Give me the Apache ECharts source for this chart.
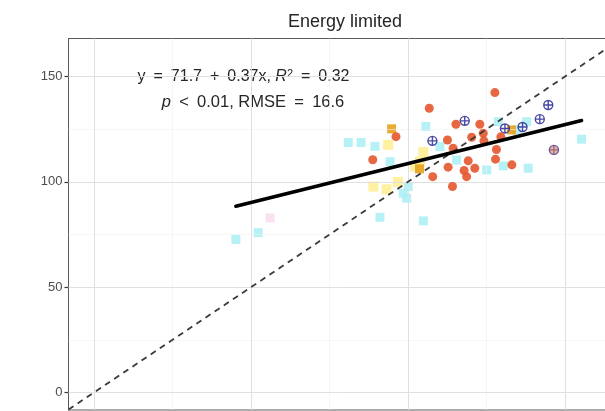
<!DOCTYPE html>
<html>
<head>
<meta charset="utf-8">
<script src="https://cdn.jsdelivr.net/npm/echarts@6/dist/echarts.min.js"></script>
<style>
  html, body { margin: 0; padding: 0; background: #fff; }
  #chart { width: 605px; height: 411px; }
</style>
</head>
<body>
<div id="chart"></div>
<script>
// Observed vs. predicted values, energy-limited sites
const orangeSites = [
  [127.7, 142.4], [106.8, 135.0], [115.3, 127.4], [122.9, 127.4], [96.2, 121.5],
  [112.6, 119.9], [120.3, 121.2], [124.0, 123.1], [124.2, 119.5], [114.4, 116.0],
  [88.8, 110.5], [119.2, 110.0], [127.9, 110.8], [112.8, 107.0], [117.9, 105.4],
  [121.3, 106.5], [118.7, 102.5], [107.9, 102.5], [114.2, 97.8], [133.1, 108.1],
  [128.2, 115.4], [129.6, 121.4]
];
const cyanSites = [
  [45.2, 72.7], [52.3, 75.9], [81.0, 118.7], [85.1, 118.7], [89.5, 116.9],
  [105.7, 126.3], [94.3, 109.6], [91.1, 83.2], [104.9, 81.5], [100.1, 97.8],
  [99.6, 92.3], [155.3, 120.3], [138.3, 106.5], [130.4, 107.6], [125.1, 105.7],
  [137.8, 128.6], [134.6, 124.7], [128.8, 128.6], [115.5, 110.4], [110.2, 116.8],
  [98.5, 94.6]
];
const yellowSites = [
  [104.9, 114.2], [93.7, 117.6], [89.0, 97.8], [93.2, 96.5], [102.2, 107.3],
  [103.8, 109.6], [96.8, 100.0]
];
const goldSites = [[94.8, 125.2], [103.7, 106.2], [133.0, 124.7]];
const pinkSites = [[56.1, 82.9]];
const crossSites = [
  [144.7, 136.5], [142.0, 129.8], [136.5, 126.1], [130.9, 125.4], [118.1, 129.0],
  [107.8, 119.5], [146.5, 115.2]
];
const overlapSites = [[146.5, 115.2]];

// Linear fit and 1:1 reference
const fitIntercept = 71.7;
const fitSlope = 0.37;
const fitRange = [45.2, 155.3];
const identityRange = [-8.1, 168];

const yTicks = [0, 50, 100, 150];
const minorTicks = [25, 75, 125];

const fitLine = fitRange.map(x => [x, fitIntercept + fitSlope * x]);
const identityLine = identityRange.map(v => [v, v]);

const FONT = 'Liberation Sans, Arial, sans-serif';
const TEXT = '#262626';
const SP = '\u2002';
const crossPath = 'path://M10,0 A10,10 0 1 1 10,20 A10,10 0 1 1 10,0 Z M0,10 L20,10 M10,0 L10,20';

const chart = echarts.init(document.getElementById('chart'), null, { renderer: 'canvas' });

const gridMarks = {
  silent: true,
  symbol: 'none',
  label: { show: false },
  animation: false,
  data: [
    ...minorTicks.map(v => ({ yAxis: v, lineStyle: { color: '#F0F0F0', width: 0.6, type: 'solid' } })),
    ...minorTicks.map(v => ({ xAxis: v, lineStyle: { color: '#F0F0F0', width: 0.6, type: 'solid' } })),
    ...yTicks.map(v => ({ yAxis: v, lineStyle: { color: '#E0E0E0', width: 1, type: 'solid' } })),
    ...yTicks.map(v => ({ xAxis: v, lineStyle: { color: '#E0E0E0', width: 1, type: 'solid' } }))
  ]
};

chart.setOption({
  animation: false,
  backgroundColor: '#ffffff',
  grid: {
    left: 68.5, top: 38.5, width: 552.6, height: 371.5,
    outerBoundsMode: 'none', containLabel: false,
    show: true, borderColor: '#5A5A5A', borderWidth: 1, backgroundColor: '#ffffff'
  },
  xAxis: {
    type: 'value', min: -8.1, max: 167.9,
    axisLine: { show: false, onZero: false }, axisTick: { show: false }, axisLabel: { show: false },
    splitLine: { show: false }
  },
  yAxis: {
    type: 'value', min: -8.3, max: 168.1, position: 'left',
    axisLine: { show: true, onZero: false, lineStyle: { color: '#5A5A5A', width: 1 } },
    axisTick: { show: true, inside: false, length: 4, customValues: yTicks, lineStyle: { color: '#333333', width: 1.2 } },
    axisLabel: { show: true, customValues: yTicks, color: '#4D4D4D', fontFamily: FONT, fontSize: 13, margin: 6 },
    splitLine: { show: false }
  },
  graphic: [
    {
      type: 'text', x: 345, y: 22, silent: true,
      style: { text: 'Energy limited', fill: TEXT, font: '18px ' + FONT, textAlign: 'center', textVerticalAlign: 'middle' }
    },
    {
      type: 'text', x: 243.5, y: 77, silent: true,
      style: {
        text: '{a|y' + SP + '=' + SP + '71.7' + SP + '+' + SP + '0.37x, }{i|R}{s|2}{a|' + SP + '=' + SP + '0.32}',
        textAlign: 'center', textVerticalAlign: 'middle',
        rich: {
          a: { fontFamily: FONT, fontSize: 16, fill: TEXT },
          i: { fontFamily: FONT, fontSize: 16, fontStyle: 'italic', fill: TEXT },
          s: { fontFamily: FONT, fontSize: 11, fill: TEXT, verticalAlign: 'top', padding: [0, 0, 7, 0] }
        }
      }
    },
    {
      type: 'text', x: 253, y: 102, silent: true,
      style: {
        text: '{i|p}{a|' + SP + '<' + SP + '0.01, RMSE' + SP + '=' + SP + '16.6}',
        textAlign: 'center', textVerticalAlign: 'middle',
        rich: {
          a: { fontFamily: FONT, fontSize: 16.5, fill: TEXT },
          i: { fontFamily: FONT, fontSize: 16.5, fontStyle: 'italic', fill: TEXT }
        }
      }
    }
  ],
  series: [
    {
      type: 'line', data: [], markLine: gridMarks, z: 1
    },
    {
      type: 'scatter', data: pinkSites, symbol: 'rect', symbolSize: 9, z: 2,
      itemStyle: { color: '#F6C8E6', opacity: 0.55 }
    },
    {
      type: 'scatter', data: cyanSites, symbol: 'rect', symbolSize: 9, z: 3,
      itemStyle: { color: '#A9EEF5', opacity: 0.85 }
    },
    {
      type: 'scatter', data: yellowSites, symbol: 'rect', symbolSize: 10, z: 3,
      itemStyle: { color: '#FFEE88', opacity: 0.8 }
    },
    {
      type: 'scatter', data: goldSites, symbol: 'rect', symbolSize: 9, z: 4,
      itemStyle: { color: '#E8A21C', opacity: 0.9 }
    },
    {
      type: 'scatter', data: crossSites, symbol: crossPath, symbolSize: 9, z: 5,
      itemStyle: { color: 'rgba(0,0,0,0)', borderColor: '#1C1C8C', borderWidth: 1.4 }
    },
    {
      type: 'scatter', data: orangeSites, symbol: 'circle', symbolSize: 9, z: 6,
      itemStyle: { color: '#E4572E', opacity: 0.9 }
    },
    {
      type: 'scatter', data: overlapSites, symbol: 'circle', symbolSize: 9, z: 6,
      itemStyle: { color: '#D9826A', opacity: 0.6 }
    },
    {
      type: 'line', data: identityLine, symbol: 'none', z: 7,
      lineStyle: { color: '#3A3A3A', width: 1.8, type: [6, 5] }
    },
    {
      type: 'line', data: fitLine, symbol: 'none', z: 8,
      lineStyle: { color: '#000000', width: 3.5, cap: 'round' }
    }
  ]
});
</script>
</body>
</html>
